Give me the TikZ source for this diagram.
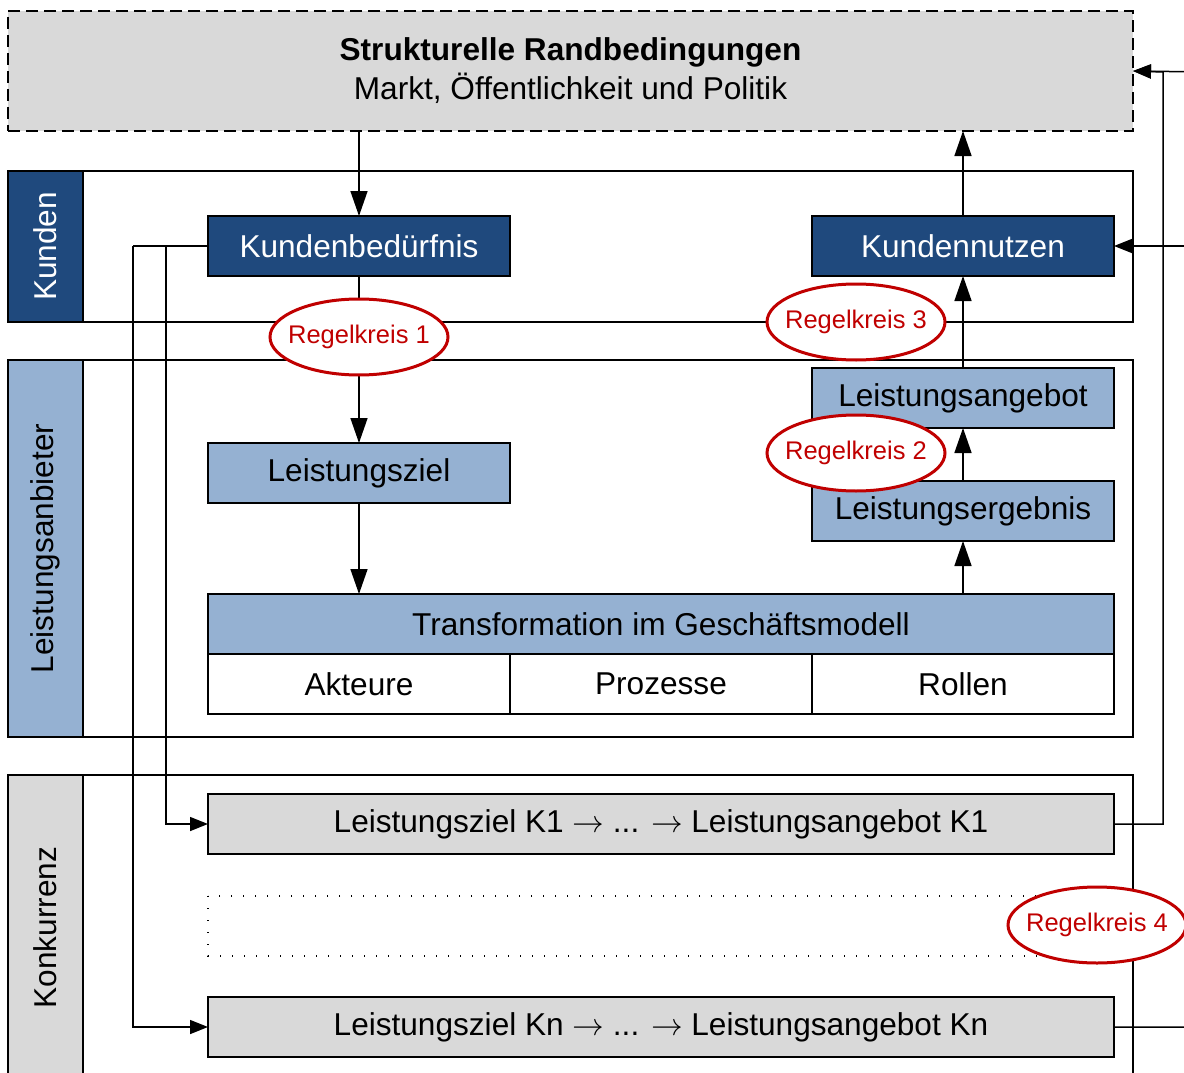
\documentclass[tikz,border=0pt]{standalone}
\usepackage{fontspec}
\setmainfont{Liberation Sans}
\newfontfamily\arrowfont{latinmodern-math.otf}
\usetikzlibrary{arrows.meta,shapes.geometric}
\definecolor{kblue}{HTML}{1F497D}
\definecolor{lblue}{HTML}{95B1D2}
\definecolor{lgray}{HTML}{D9D9D9}
\definecolor{rkred}{HTML}{C00000}
\newcommand{\thenarrow}{{\arrowfont →}}

\begin{document}
\begin{tikzpicture}[x=1pt,y=-1pt,
  every node/.style={inner sep=0pt, outer sep=0pt, font=\fontsize{31.6}{39}\selectfont},
  lane/.style={draw, line width=1.5pt, fill=white, minimum width=1125pt},
  lanelabel/.style={draw, line width=1.5pt, rotate=90, minimum height=75pt},
  box/.style={draw, line width=1.5pt, minimum height=60pt, minimum width=302pt},
  widebox/.style={box, minimum width=906pt},
  darkbox/.style={box, fill=kblue, text=white},
  lightbox/.style={box, fill=lblue},
  graybox/.style={widebox, fill=lgray},
  loop/.style={ellipse, draw=rkred, line width=3pt, fill=white, text=rkred,
    inner xsep=-8.5pt, inner ysep=0pt,
    minimum width=178pt, minimum height=76pt, font=\fontsize{25.5}{30}\selectfont},
  conn/.style={line width=1.5pt},
  varr/.style={conn, -{Triangle[length=25pt,width=17pt]}},
  harr/.style={conn, -{Triangle[length=18pt,width=14pt]}}
]
\useasboundingbox (0,0) rectangle (1184,1073);
\clip (0,0) rectangle (1184,1073);

% framework conditions
\node[draw, dash pattern=on 12pt off 6pt, line width=1.5pt, fill=lgray,
  minimum width=1125pt, minimum height=120pt, align=center] (top) at (570.5,71)
  {\textbf{Strukturelle Randbedingungen}\\Markt, Öffentlichkeit und Politik};

% swim lanes
\node[lane, minimum height=151pt] (laneK) at (570.5,246.5) {};
\node[lanelabel, minimum width=151pt, fill=kblue, text=white] (labK) at (45.5,246.5) {Kunden};
\node[lane, minimum height=377pt] (laneL) at (570.5,548.5) {};
\node[lanelabel, minimum width=377pt, fill=lblue] (labL) at (45.5,548.5) {Leistungsanbieter};
\node[lane, minimum height=305pt] (laneC) at (570.5,927.5) {};
\node[lanelabel, minimum width=305pt, fill=lgray] (labC) at (45.5,927.5) {Konkurrenz};

% junctions of the feedback lines
\coordinate (jA) at (133,246);
\coordinate (jB) at (166,246);
\coordinate (c1) at (1163,72);
\coordinate (c2) at (1205,72);

% boxes
\node[darkbox] (kb) at (359,246) {Kundenbedürfnis};
\node[darkbox] (kn) at (963,246) {Kundennutzen};
\node[lightbox] (lz) at (359,473) {Leistungsziel};
\node[lightbox] (la) at (963,398) {Leistungsangebot};
\node[lightbox] (le) at (963,511) {Leistungsergebnis};
\node[widebox, fill=lblue] (tr) at (661,624) {Transformation im Geschäftsmodell};
\node[box, fill=white] (ak) at (359,684) {Akteure};
\node[box, fill=white] (pr) at (661,684) {Prozesse};
\node[box, fill=white] (ro) at (963,684) {Rollen};
\node[graybox] (k1) at (661,824) {Leistungsziel K1 \thenarrow{} ... \thenarrow{} Leistungsangebot K1};
\node[widebox, draw=none, minimum width=906pt] (kx) at (661,926) {};
\draw[line width=1.2pt, dash pattern=on 1.2pt off 10.8pt] (kx.north west) rectangle (kx.south east);
\node[graybox] (kN) at (661,1027) {Leistungsziel Kn \thenarrow{} ... \thenarrow{} Leistungsangebot Kn};

% connectors
\draw[varr] (top.south -| kb.north) -- (kb.north);
\draw[varr] (kb.south) -- (lz.north);
\draw[varr] (lz.south) -- (tr.north -| lz.south);
\draw[varr] (tr.north -| le.south) -- (le.south);
\draw[varr] (le.north) -- (la.south);
\draw[varr] (la.north) -- (kn.south);
\draw[varr] (kn.north) -- (top.south -| kn.north);
\draw[conn] (kb.west) -- (jA);
\draw[harr] (jA) |- (kN.west);
\draw[harr] (jB) |- (k1.west);
\draw[harr] (k1.east) -| (c1) -- (top.east);
\draw[harr] (kN.east) -| (c2) -- (top.east);
\draw[harr] (c2 |- kn.east) -- (kn.east);

% control loops
\node[loop] (r1) at (359,337) {Regelkreis 1};
\node[loop] (r3) at (856,322) {Regelkreis 3};
\node[loop] (r2) at (856,453) {Regelkreis 2};
\node[loop] (r4) at (1097,925) {Regelkreis 4};
\end{tikzpicture}
\end{document}
